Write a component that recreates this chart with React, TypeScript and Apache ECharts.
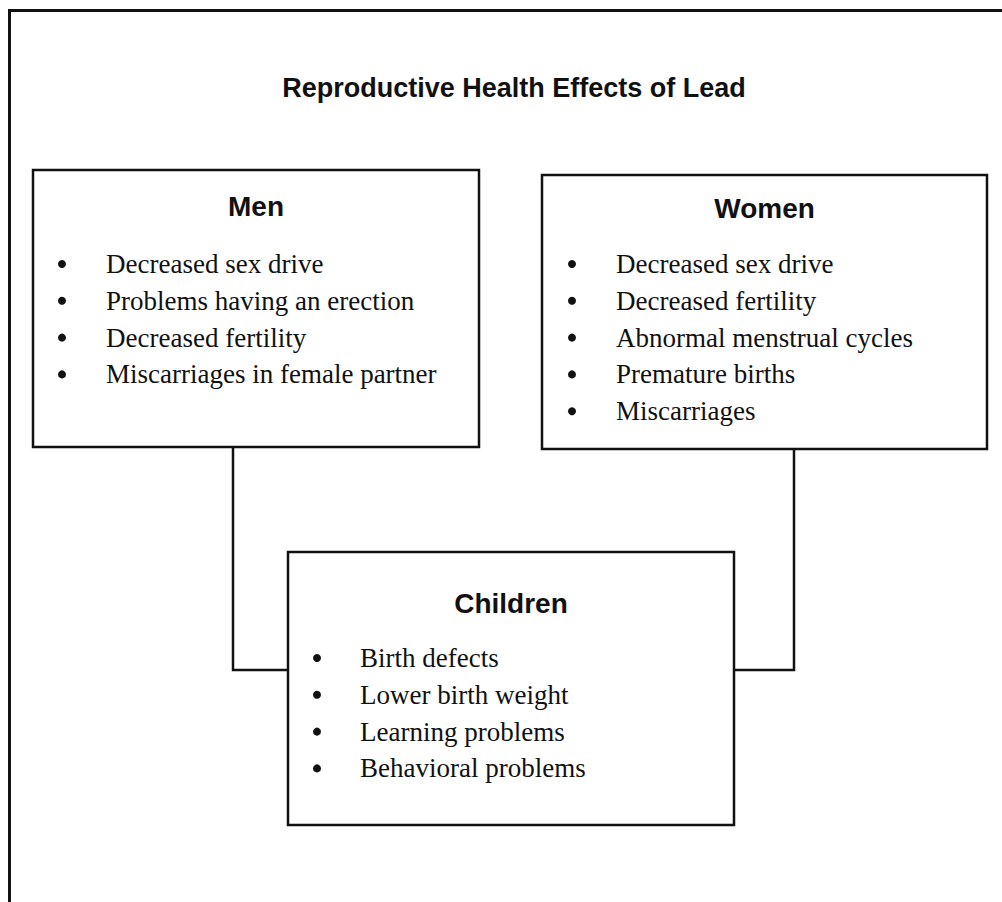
import React, { useEffect, useRef } from "react";
import * as echarts from "echarts";

const chartTitle = "Reproductive Health Effects of Lead";
const groupTitles = ["Men", "Women", "Children"];
const menEffects = [
  "Decreased sex drive",
  "Problems having an erection",
  "Decreased fertility",
  "Miscarriages in female partner",
];
const womenEffects = [
  "Decreased sex drive",
  "Decreased fertility",
  "Abnormal menstrual cycles",
  "Premature births",
  "Miscarriages",
];
const childrenEffects = [
  "Birth defects",
  "Lower birth weight",
  "Learning problems",
  "Behavioral problems",
];

const SANS = "'Liberation Sans', Arial, Helvetica, sans-serif";
const SERIF = "'Liberation Serif', 'Times New Roman', serif";

type BoxSpec = {
  x: number;
  y: number;
  w: number;
  h: number;
  title: string;
  titleY: number;
  items: string[];
  itemY: number;
  bulletX: number;
  textX: number;
};

function boxElements(b: BoxSpec): any[] {
  const els: any[] = [];
  els.push({
    type: "rect",
    shape: { x: b.x, y: b.y, width: b.w, height: b.h },
    style: { fill: "#ffffff", stroke: "#111111", lineWidth: 2.5 },
    z: 10,
  });
  els.push({
    type: "text",
    x: b.x + b.w / 2,
    y: b.titleY,
    style: {
      text: b.title,
      font: `bold 28px ${SANS}`,
      fill: "#111111",
      textAlign: "center",
      textVerticalAlign: "middle",
    },
    z: 11,
  });
  b.items.forEach((t, i) => {
    const y = b.itemY + i * 36.8;
    els.push({
      type: "circle",
      shape: { cx: b.bulletX, cy: y, r: 4 },
      style: { fill: "#111111" },
      z: 11,
    });
    els.push({
      type: "text",
      x: b.textX,
      y,
      style: {
        text: t,
        font: `27px ${SERIF}`,
        fill: "#111111",
        textAlign: "left",
        textVerticalAlign: "middle",
      },
      z: 11,
    });
  });
  return els;
}

export default function App() {
  const ref = useRef<HTMLDivElement>(null);
  useEffect(() => {
    if (!ref.current) return;
    const chart = echarts.init(ref.current, undefined, { renderer: "svg" });
    const men: BoxSpec = {
      x: 33, y: 170, w: 446, h: 277,
      title: groupTitles[0], titleY: 206,
      items: menEffects, itemY: 264, bulletX: 62, textX: 106,
    };
    const women: BoxSpec = {
      x: 542, y: 175, w: 445, h: 274,
      title: groupTitles[1], titleY: 208,
      items: womenEffects, itemY: 264, bulletX: 572, textX: 616,
    };
    const children: BoxSpec = {
      x: 288, y: 552, w: 446, h: 273,
      title: groupTitles[2], titleY: 603,
      items: childrenEffects, itemY: 658, bulletX: 317, textX: 360,
    };
    const graphic: any[] = [
      {
        type: "rect",
        shape: { x: 9.5, y: 10.5, width: 1200, height: 1200 },
        style: { fill: "none", stroke: "#111111", lineWidth: 3 },
        z: 1,
      },
      {
        type: "text",
        x: 514,
        y: 88,
        style: {
          text: chartTitle,
          font: `bold 27px ${SANS}`,
          fill: "#111111",
          textAlign: "center",
          textVerticalAlign: "middle",
        },
        z: 5,
      },
      {
        type: "polyline",
        shape: { points: [[233, 447], [233, 670], [288, 670]] },
        style: { fill: "none", stroke: "#111111", lineWidth: 2.5 },
        z: 5,
      },
      {
        type: "polyline",
        shape: { points: [[794, 449], [794, 670], [734, 670]] },
        style: { fill: "none", stroke: "#111111", lineWidth: 2.5 },
        z: 5,
      },
      ...boxElements(men),
      ...boxElements(women),
      ...boxElements(children),
    ];
    chart.setOption({
      animation: false,
      backgroundColor: "#ffffff",
      graphic,
    });
    return () => chart.dispose();
  }, []);
  return (
    <div
      ref={ref}
      style={{ position: "absolute", left: 0, top: 0, width: 1002, height: 902 }}
    />
  );
}
